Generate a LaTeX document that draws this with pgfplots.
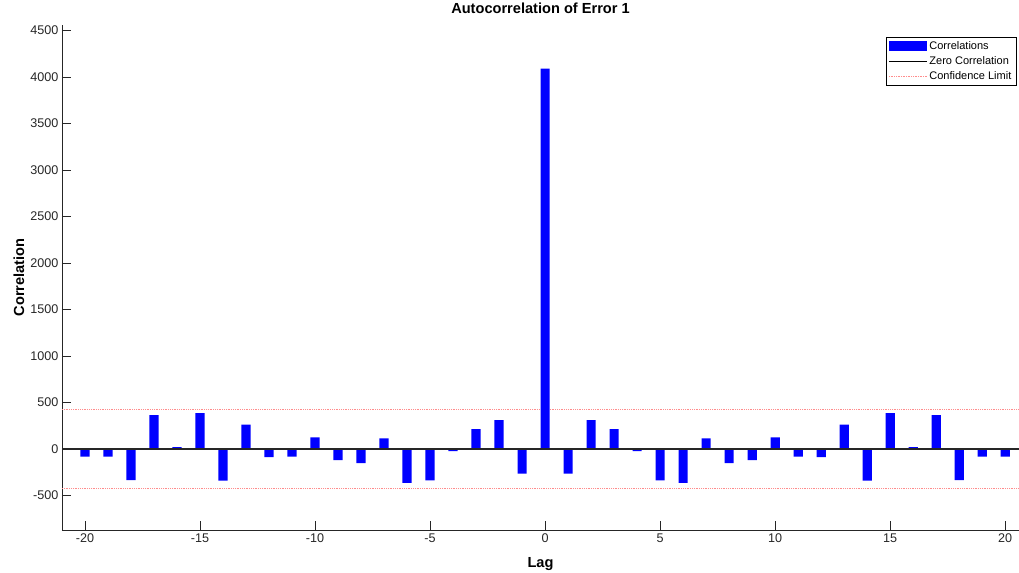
\documentclass[border=0pt]{standalone}
\usepackage{pgfplots}
\pgfplotsset{compat=1.18}
\usepackage{fontspec}
\setmainfont{Liberation Sans}
\definecolor{axgray}{RGB}{38,38,38}
\definecolor{barblue}{RGB}{0,0,255}
\definecolor{conf}{RGB}{255,0,0}

\begin{document}
\begin{tikzpicture}
\begin{axis}[
  scale only axis, width=957pt, height=505pt,
  xmin=-21, xmax=20.6, ymin=-870, ymax=4560,
  axis lines=left, axis line style={-, axgray},
  xtick={-20,-15,...,20}, ytick={-500,0,...,4500},
  tick align=inside, major tick length=9.5pt,
  tick style={axgray}, tick label style={font=\fontsize{12.6}{14}\selectfont, text=axgray},
  /pgf/number format/assume math mode=true,
  /pgf/number format/1000 sep={},
  xlabel={\textbf{Lag}}, ylabel={\textbf{Correlation}},
  label style={font=\fontsize{14.6}{16}\selectfont},
  xlabel style={at={(axis description cs:0.5,-0.0733)}, anchor=base},
  ylabel style={at={(axis description cs:-0.0397,0.5)}, anchor=base},
  title={\textbf{Autocorrelation of Error 1}},
  title style={font=\fontsize{14.6}{16}\selectfont, at={(axis description cs:0.5,1.011)}, anchor=base},
  legend cell align=left,
  legend style={at={(rel axis cs:0.9969,0.9762)}, anchor=north east, font=\fontsize{11}{12}\selectfont,
    draw=black, row sep=1.5pt, inner sep=2.5pt},
]
% confidence limits sit under the bars
\addplot[conf!45, densely dotted, line width=0.8pt, forget plot]
  coordinates {(-21,427)(20.6,427)};
\addplot[conf!45, densely dotted, line width=0.8pt, forget plot]
  coordinates {(-21,-427)(20.6,-427)};
\addplot[ybar, bar width=0.4, fill=barblue, draw=none,
  legend image code/.code={\fill[barblue] (0pt,-5pt) rectangle (38pt,5pt);}]
  coordinates {
  (-20,-82)(-19,-82)(-18,-333)(-17,366)(-16,21)(-15,387)(-14,-340)(-13,262)(-12,-86)(-11,-82)
  (-10,125)(-9,-118)(-8,-150)(-7,115)(-6,-362)(-5,-337)(-4,-21)(-3,215)(-2,312)(-1,-265)
  (0,4092)
  (1,-265)(2,312)(3,215)(4,-21)(5,-337)(6,-362)(7,115)(8,-150)(9,-118)(10,125)
  (11,-82)(12,-86)(13,262)(14,-340)(15,387)(16,21)(17,366)(18,-333)(19,-82)(20,-82)};
\addlegendentry{Correlations}
\addplot[black!85, line width=1.5pt,
  legend image code/.code={\draw[black, line width=0.7pt] (0pt,0pt) -- (38pt,0pt);}]
  coordinates {(-21,0)(20.6,0)};
\addlegendentry{Zero Correlation}
\addlegendimage{legend image code/.code={\draw[conf!45, densely dotted, line width=0.7pt] (0pt,0pt) -- (38pt,0pt);}}
\addlegendentry{Confidence Limit}
\end{axis}
\pgfresetboundingbox
\path[use as bounding box] ([xshift=-62pt,yshift=-42pt]current axis.south west)
  rectangle ([yshift=25pt]current axis.north east);
\end{tikzpicture}
\end{document}
